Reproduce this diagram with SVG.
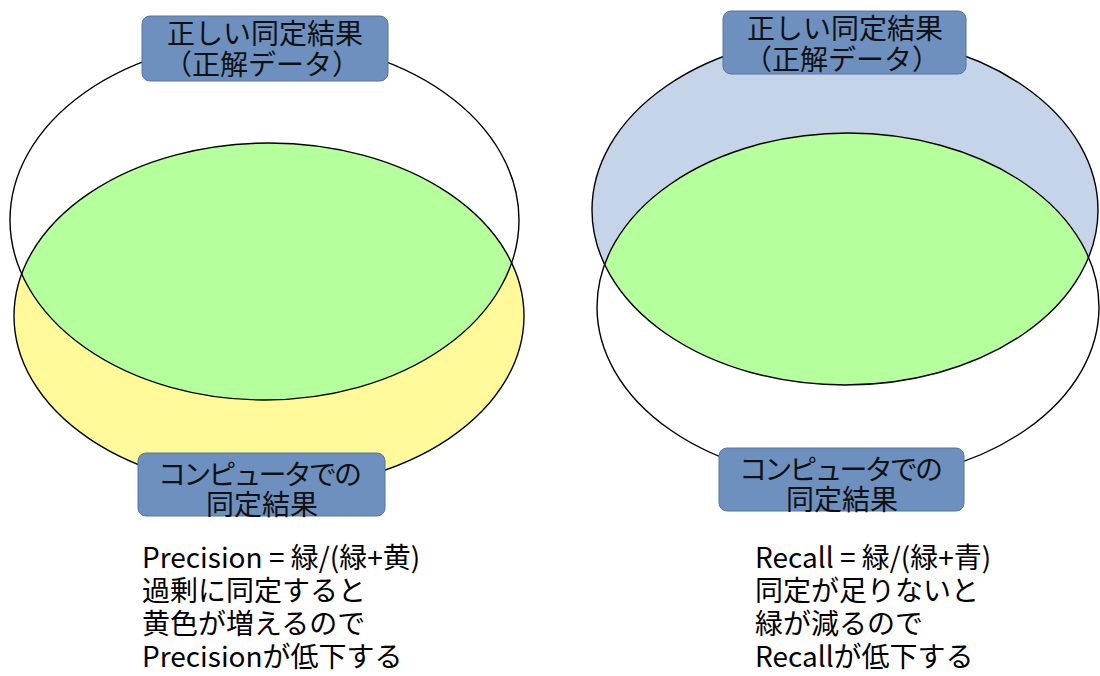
<svg xmlns="http://www.w3.org/2000/svg" width="1100" height="676" viewBox="0 0 1100 676">
<style>
.outline{fill:none;stroke:#000;stroke-width:1.4}
.lbl{fill:#6D90BF;stroke:#56759F;stroke-width:1}
.lt{font-family:"Noto Sans CJK JP","Noto Sans",sans-serif;font-size:28px;fill:#111;text-anchor:middle}
.bt{font-family:"Noto Sans CJK JP","Noto Sans",sans-serif;font-size:28px;fill:#000}
.green{fill:#B5FF9C}
.yellow{fill:#FFF99A}
.blue{fill:#C6D4EA}
</style>
<defs>
<clipPath id="clipTopL"><ellipse cx="264.5" cy="220" rx="254.5" ry="180"/></clipPath>
<clipPath id="clipTopR"><ellipse cx="845" cy="210" rx="253" ry="175"/></clipPath>
</defs>
<rect width="1100" height="676" fill="#fff"/>

<g id="precision-venn">
  <ellipse class="yellow" cx="269" cy="316" rx="255" ry="173"/>
  <ellipse class="green" cx="269" cy="316" rx="255" ry="173" clip-path="url(#clipTopL)"/>
  <ellipse class="outline" cx="264.5" cy="220" rx="254.5" ry="180"/>
  <ellipse class="outline" cx="269" cy="316" rx="255" ry="173"/>
</g>

<g id="recall-venn">
  <ellipse class="blue" cx="845" cy="210" rx="253" ry="175"/>
  <ellipse class="green" cx="848" cy="307" rx="251" ry="174" clip-path="url(#clipTopR)"/>
  <ellipse class="outline" cx="845" cy="210" rx="253" ry="175"/>
  <ellipse class="outline" cx="848" cy="307" rx="251" ry="174"/>
</g>

<g id="connectors"/>

<g id="label-truth-left">
  <rect class="lbl" x="142" y="16" width="246" height="65" rx="8"/>
  <text class="lt" x="265" y="44">正しい同定結果</text>
  <text class="lt" x="262" y="75">（正解データ）</text>
</g>
<g id="label-computer-left">
  <rect class="lbl" x="138" y="453" width="247" height="63" rx="8"/>
  <text class="lt" x="260" y="485" textLength="204">コンピュータでの</text>
  <text class="lt" x="262" y="515">同定結果</text>
</g>
<g id="label-truth-right">
  <rect class="lbl" x="723" y="11" width="243" height="63" rx="8"/>
  <text class="lt" x="845" y="39">正しい同定結果</text>
  <text class="lt" x="842" y="70">（正解データ）</text>
</g>
<g id="label-computer-right">
  <rect class="lbl" x="719" y="448" width="245" height="63" rx="8"/>
  <text class="lt" x="841" y="480" textLength="204">コンピュータでの</text>
  <text class="lt" x="842" y="510">同定結果</text>
</g>

<g id="precision-text">
  <text class="bt" x="142" y="568">Precision = 緑/(緑+黄)</text>
  <text class="bt" x="142" y="601">過剰に同定すると</text>
  <text class="bt" x="142" y="634">黄色が増えるので</text>
  <text class="bt" x="142" y="667">Precisionが低下する</text>
</g>
<g id="recall-text">
  <text class="bt" x="755" y="568">Recall = 緑/(緑+青)</text>
  <text class="bt" x="755" y="601">同定が足りないと</text>
  <text class="bt" x="755" y="634">緑が減るので</text>
  <text class="bt" x="755" y="667">Recallが低下する</text>
</g>
</svg>
